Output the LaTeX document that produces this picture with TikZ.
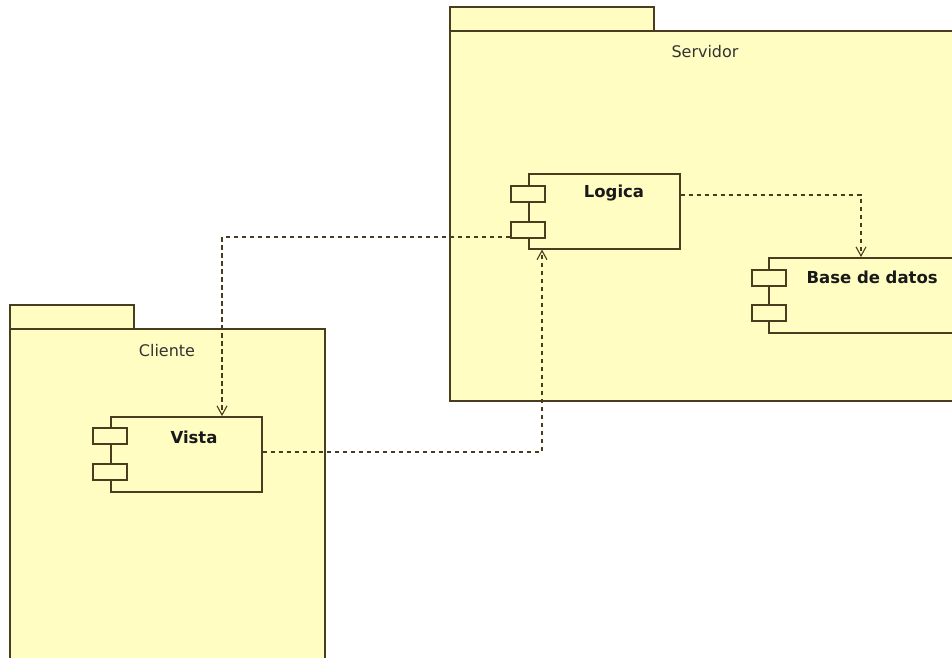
\documentclass[tikz,border=0pt]{standalone}
\usepackage{fontspec}
\setmainfont{DejaVu Sans}
\usetikzlibrary{arrows.meta,calc}
\definecolor{pkgfill}{HTML}{FFFDC2}
\definecolor{edge}{HTML}{4A3C1E}
\tikzset{
  box/.style={draw=edge, fill=pkgfill, line width=1.6pt},
  comp/.style={box, rectangle, inner sep=0pt, minimum width=151pt, minimum height=75pt, anchor=north west},
  port/.style={box, rectangle, inner sep=0pt, minimum width=34pt, minimum height=16pt, anchor=north west},
  pkglabel/.style={font=\fontsize{16}{19}\selectfont, text=black!80},
  complabel/.style={font=\bfseries\fontsize{16.5}{19}\selectfont, text=black!90},
  dep/.style={draw=edge, line width=1.6pt, dash pattern=on 4.5pt off 3.5pt, -{Straight Barb[length=9pt,width=10pt,line width=1.1pt]}},
}
\begin{document}
\begin{tikzpicture}[x=1pt,y=-1pt]
\useasboundingbox (0,0) rectangle (952,657);
\clip (0,0) rectangle (952,657);
\fill[white] (0,0) rectangle (952,657);
% Servidor package
\draw[box] (450,7) rectangle (654,31);
\draw[box] (450,31) rectangle (975,401);
\node[pkglabel] (servidor) at (705,52) {Servidor};
% Cliente package
\draw[box] (10,305) rectangle (134,329);
\draw[box] (10,329) rectangle (325,680);
\node[pkglabel] (cliente) at (167,351) {Cliente};
% Logica component
\node[comp] (logica) at (528,173) {};
\node[port] (logicap1) at (510,185) {};
\node[port] (logicap2) at (510,221) {};
\node[complabel] (logicat) at (614,193) {Logica};
% Base de datos component
\node[comp, minimum width=220pt] (base) at (768,257) {};
\node[port] (basep1) at (751,269) {};
\node[port] (basep2) at (751,304) {};
\node[complabel, anchor=west] (baset) at (803,277) {Base de datos};
% Vista component
\node[comp] (vista) at (110,416) {};
\node[port] (vistap1) at (92,427) {};
\node[port] (vistap2) at (92,463) {};
\node[complabel] (vistat) at (194,437) {Vista};
% dependencies
\coordinate (logout) at ($(logica.north east)+(0,22)$);
\coordinate (basein) at ($(base.north west)+(93,0)$);
\draw[dep] (logout) -| (basein);
\coordinate (logleft) at ($(logicap2.south west)+(0,-1.5)$);
\coordinate (vistain) at ($(vista.north west)+(112,0)$);
\draw[dep] (logleft) -| (vistain);
\coordinate (vistaout) at ($(vista.east)+(0,-2.5)$);
\coordinate (login) at ($(logica.south west)+(14,0)$);
\draw[dep] (vistaout) -| (login);
\end{tikzpicture}
\end{document}
